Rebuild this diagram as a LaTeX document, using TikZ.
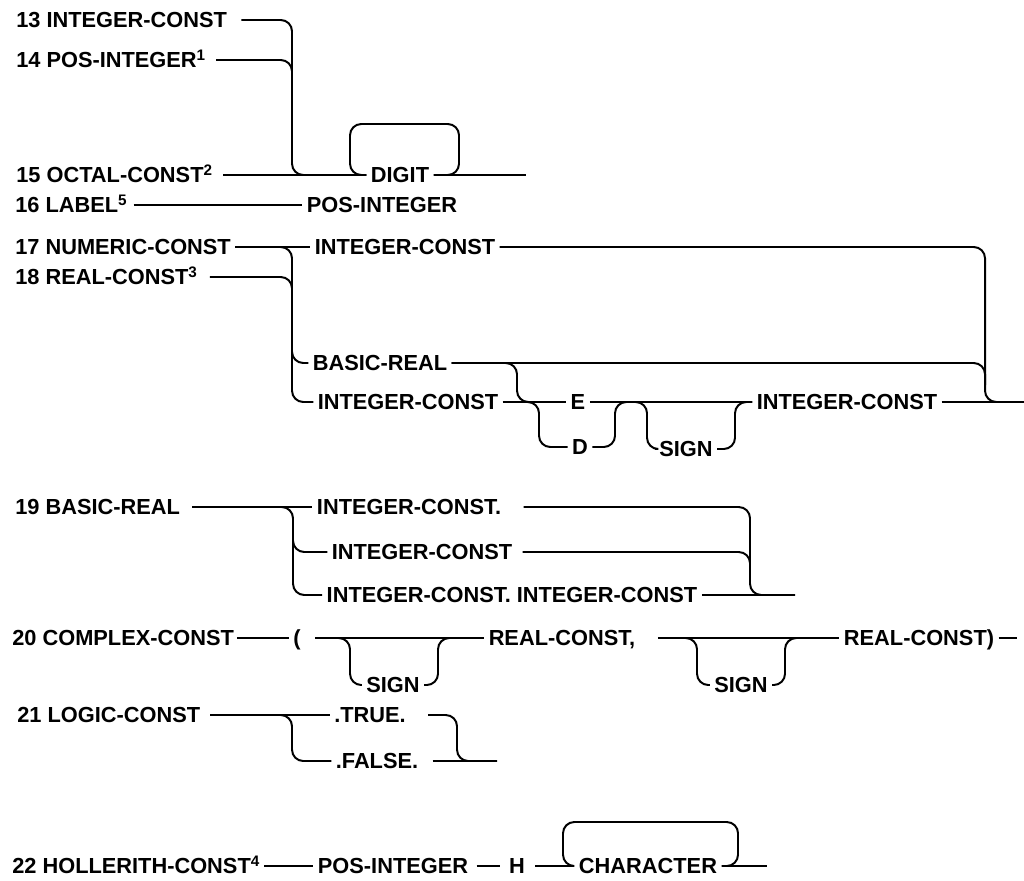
\documentclass[tikz,border=0pt]{standalone}
\usepackage{fontspec}
\setmainfont{Liberation Sans}
\usepackage{tikz}

\begin{document}
\begin{tikzpicture}[x=0.025cm, y=-0.025cm,
        every node/.style={font=\fontsize{15.5}{18}\selectfont\bfseries,
            text height=11pt, text depth=0pt},
        lhs/.style={anchor=west, inner sep=0pt},
        sym/.style={inner xsep=3pt, inner ysep=0pt},
        track/.style={line width=1.4pt, rounded corners=8pt}
    ]
    \useasboundingbox (0,0) rectangle (1024,880);

    % RULES 13-15
    \begin{scope}
        \node[lhs] (r13) at (16,20) {13 INTEGER-CONST};
        \node[lhs] (r14) at (16,60) {14 POS-INTEGER\textsuperscript{1}};
        \node[lhs] (r15) at (16,175) {15 OCTAL-CONST\textsuperscript{2}};
        \node[sym] (dig) at (400,175) {DIGIT};
        \coordinate (end15) at (526,175);

        \draw[track] (r13.east) ++(14,0) -- (292,20) |- (dig.west);
        \draw[track] (r14.east) ++(10,0) -| (292,95);
        \draw[track] (r15.east) ++(10,0) -- (dig.west);
        \draw[track] (dig.east) -- (end15);
        \draw[track] (dig.west) -- (350,175) |- (459,124)
            -- (459,175) -- (dig.east);
    \end{scope}

    % RULE 16
    \node[lhs] (r16) at (15,205) {16 LABEL\textsuperscript{5}};
    \node[sym] (p16) at (382,205) {POS-INTEGER};
    \draw[track] (r16.east) ++(6,0) -- (p16.west);

    % RULES 17-18
    \begin{scope}
        \node[lhs] (r17) at (15,247) {17 NUMERIC-CONST};
        \node[lhs] (r18) at (15,277) {18 REAL-CONST\textsuperscript{3}};
        \node[sym] (ic17a) at (405,247) {INTEGER-CONST};
        \node[sym] (br17) at (380,363) {BASIC-REAL};
        \node[sym] (ic17) at (408,402) {INTEGER-CONST};
        \node[sym] (e17) at (578,402) {E};
        \node[sym] (d17) at (580,447) {D};
        \node[sym] (s17) at (686,449) {SIGN};
        \node[sym] (ic17b) at (847,402) {INTEGER-CONST};
        \coordinate (end17) at (1024,402);

        \draw[track] (r17.east) ++(4,0) -- (ic17a.west);
        \draw[track] (r17.east) ++(4,0) -- (292,247) |- (ic17.west);
        \draw[track] (r18.east) ++(12,0) -| (292,310);
        \draw[track] (292,330) |- (br17.west);
        \draw[track] (ic17a.east) -| (985,402) -- (end17);
        \draw[track] (br17.east) -| (985,385);
        \draw[track] (br17.east) -- (517,363) |- (545,402);
        \draw[track] (ic17.east) -- (e17.west);
        \draw[track] (525,402) -- (539,402) |- (d17.west);
        \draw[track] (d17.east) -- (615,447) |- (640,402);
        \draw[track] (e17.east) -- (ic17b.west);
        \draw[track] (630,402) -- (647,402) |- (s17.west);
        \draw[track] (s17.east) -- (735,449) |- (ic17b.west);
        \draw[track] (ic17b.east) -- (end17);
    \end{scope}

    % RULE 19
    \begin{scope}
        \node[lhs] (r19) at (15,507) {19 BASIC-REAL};
        \node[sym] (t19a) at (409,507) {INTEGER-CONST.};
        \node[sym] (t19b) at (422,552) {INTEGER-CONST};
        \node[sym] (t19c) at (512,595) {INTEGER-CONST. INTEGER-CONST};
        \coordinate (end19) at (795,595);

        \draw[track] (r19.east) ++(12,0) -- (t19a.west);
        \draw[track] (r19.east) ++(12,0) -- (293,507) |- (t19c.west);
        \draw[track] (293,530) |- (t19b.west);
        \draw[track] (t19a.east) ++(18,0) -| (750,595) -- (end19);
        \draw[track] (t19b.east) ++(6,0) -| (750,575);
        \draw[track] (t19c.east) -- (end19);
    \end{scope}

    % RULE 20
    \begin{scope}
        \node[lhs] (r20) at (12,638) {20 COMPLEX-CONST};
        \node[sym] (pa20) at (297,638) {(};
        \node[sym] (rc20a) at (562,638) {REAL-CONST,};
        \node[sym] (rc20b) at (919,638) {REAL-CONST)};
        \node[sym] (s20a) at (393,685) {SIGN};
        \node[sym] (s20b) at (741,685) {SIGN};
        \coordinate (end20) at (1017,638);

        \draw[track] (r20.east) ++(3,0) -- (pa20.west);
        \draw[track] (pa20.east) ++(10,0) -- (rc20a.west);
        \draw[track] (rc20a.east) ++(18,0) -- (rc20b.west);
        \draw[track] (rc20b.east) -- (end20);
        \draw[track] (330,638) -- (350,638) |- (s20a.west);
        \draw[track] (s20a.east) -- (438,685) |- (460,638);
        \draw[track] (680,638) -- (697,638) |- (s20b.west);
        \draw[track] (s20b.east) -- (785,685) |- (805,638);
    \end{scope}

    % RULE 21
    \begin{scope}
        \node[lhs] (r21) at (17,715) {21 LOGIC-CONST};
        \node[sym] (tr21) at (370,715) {.TRUE.};
        \node[sym] (fa21) at (377,761) {.FALSE.};
        \coordinate (end21) at (497,761);

        \draw[track] (r21.east) ++(10,0) -- (tr21.west);
        \draw[track] (r21.east) ++(10,0) -- (292,715) |- (fa21.west);
        \draw[track] (tr21.east) ++(18,0) -- (457,715) |- (end21);
        \draw[track] (fa21.east) ++(10,0) -- (end21);
    \end{scope}

    % RULE 22
    \begin{scope}
        \node[lhs] (r22) at (12,866) {22 HOLLERITH-CONST\textsuperscript{4}};
        \node[sym] (pi22) at (393,866) {POS-INTEGER};
        \node[sym] (h22) at (517,866) {H};
        \node[sym] (ch22) at (648,866) {CHARACTER};
        \coordinate (end22) at (767,866);

        \draw[track] (r22.east) ++(4,0) -- (pi22.west);
        \draw[track] (pi22.east) ++(4,0) -- ([xshift=-3pt]h22.west);
        \draw[track] (h22.east) ++(6,0) -- (ch22.west);
        \draw[track] (ch22.east) -- (end22);
        \draw[track] (ch22.west) -- (563,866) |- (738,822)
            -- (738,866) -- (ch22.east);
    \end{scope}

\end{tikzpicture}
\end{document}
